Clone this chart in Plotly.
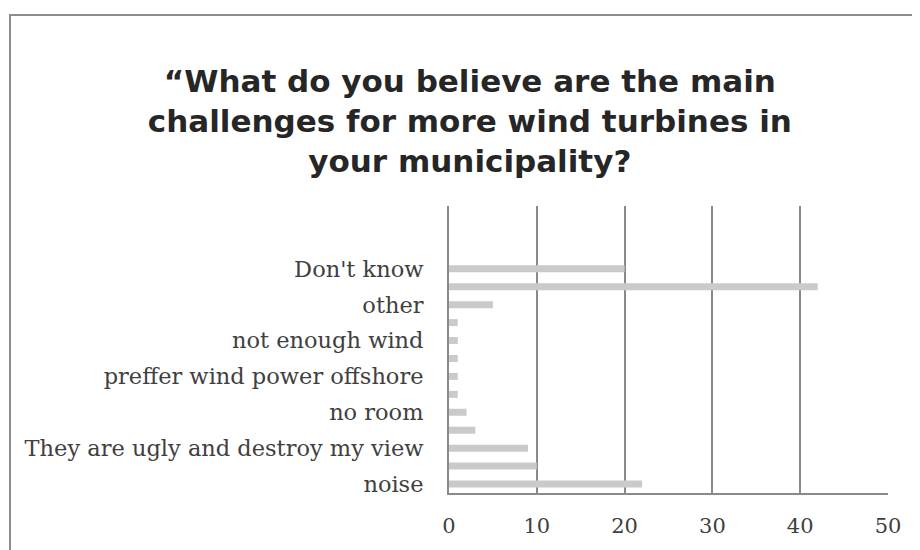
import plotly.graph_objects as go

categories = [
    "noise",
    "(unlabelled 1)",
    "They are ugly and destroy my view",
    "(unlabelled 2)",
    "no room",
    "(unlabelled 3)",
    "preffer wind power offshore",
    "(unlabelled 4)",
    "not enough wind",
    "(unlabelled 5)",
    "other",
    "(unlabelled 6)",
    "Don't know",
]
values = [22, 10, 9, 3, 2, 1, 1, 1, 1, 1, 5, 42, 20]
shown_labels = [
    "noise",
    "They are ugly and destroy my view",
    "no room",
    "preffer wind power offshore",
    "not enough wind",
    "other",
    "Don't know",
]
x_ticks = [0, 10, 20, 30, 40, 50]
title_text = ("“What do you believe are the main<br>challenges for more wind turbines in"
              "<br>your municipality?")

L, R, T, B = 441, 40, 198, 65
plot_w = 920 - L - R
plot_h = 550 - T - B

fig = go.Figure(
    go.Bar(
        x=values,
        y=categories,
        orientation="h",
        marker=dict(color="#c8cacc", line=dict(width=0)),
    )
)

fig.update_layout(
    width=920,
    height=550,
    paper_bgcolor="white",
    plot_bgcolor="white",
    margin=dict(l=L, r=R, t=T, b=B),
    bargap=0.61,
    showlegend=False,
    title=dict(
        text=title_text,
        x=0.502,
        xanchor="center",
        y=0.848,
        yanchor="middle",
        font=dict(family="DejaVu Sans", size=31, color="#262626", weight="bold"),
    ),
    font=dict(family="DejaVu Serif", color="#404040"),
    shapes=[
        dict(
            type="rect",
            xref="paper",
            yref="paper",
            x0=(2 - L) / plot_w,
            x1=1.3,
            y0=-0.5,
            y1=(550 - B - 7) / plot_h,
            line=dict(color="#8c8c8c", width=2),
            fillcolor="rgba(0,0,0,0)",
            layer="below",
        )
    ],
)

fig.update_xaxes(
    range=[0, 50],
    tickvals=x_ticks,
    ticktext=[str(t) for t in x_ticks],
    showgrid=True,
    gridcolor="#8a8a8a",
    gridwidth=2,
    zeroline=False,
    showline=True,
    linecolor="#8a8a8a",
    linewidth=2,
    ticks="",
    tickfont=dict(family="DejaVu Serif", size=21, color="#404040"),
    ticklabelstandoff=13,
)

fig.update_yaxes(
    type="category",
    categoryorder="array",
    categoryarray=categories,
    range=[-0.5, 15.5],
    tickvals=shown_labels,
    ticktext=shown_labels,
    showgrid=False,
    zeroline=False,
    showline=True,
    linecolor="#8a8a8a",
    linewidth=2,
    ticks="",
    tickfont=dict(family="DejaVu Serif", size=22.5, color="#404040"),
    ticklabelstandoff=19,
)

fig.write_html("out.html")
